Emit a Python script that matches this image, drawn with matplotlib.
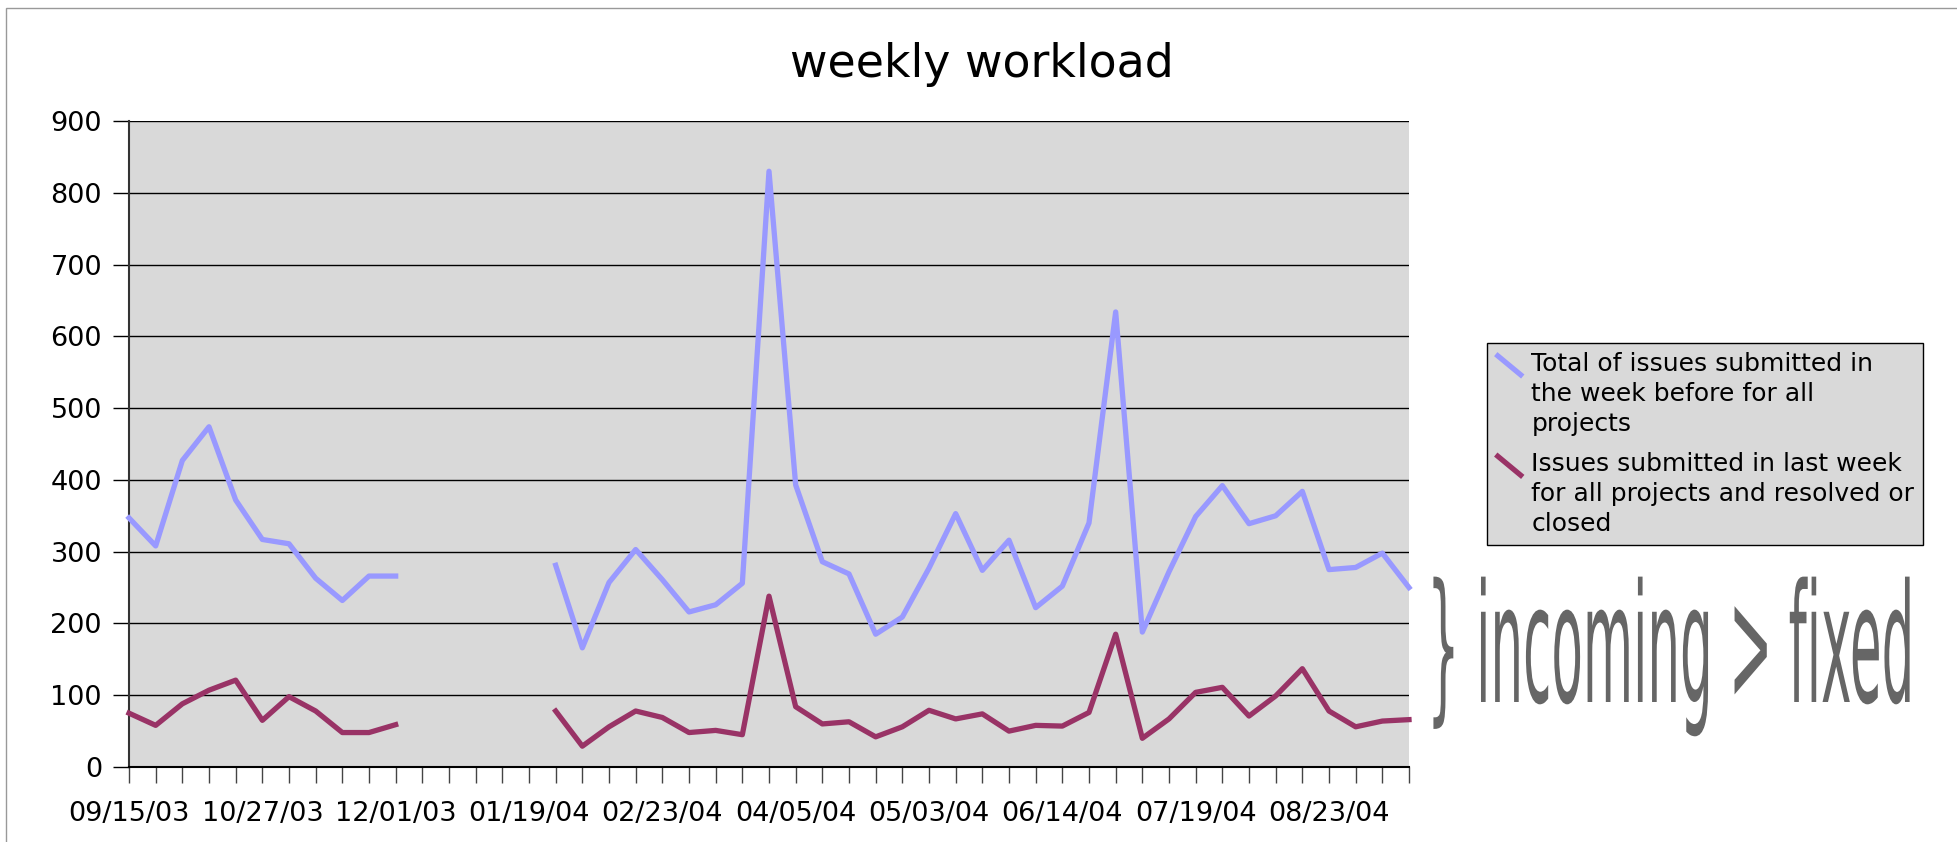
#!/usr/bin/env python3
"""
weekly workload - issues submitted vs. resolved
"""
import numpy as np
import matplotlib
matplotlib.use("Agg")
import matplotlib.pyplot as plt
from matplotlib.lines import Line2D
from matplotlib.patches import Rectangle
from matplotlib.legend_handler import HandlerBase
from matplotlib.patheffects import AbstractPathEffect
from matplotlib.transforms import Affine2D

plt.rcParams['font.family'] = ['DejaVu Sans']

nan = np.nan

# weekly values, one per category (weeks 11-15 have no data)
total_submitted = [347, 308, 427, 474, 372, 317, 311, 263, 232, 266, 266,
                   nan, nan, nan, nan, nan,
                   281, 166, 257, 303, 261, 216, 226, 256, 830, 393, 286,
                   269, 185, 209, 277, 353, 274, 316, 222, 252, 340, 634,
                   188, 272, 349, 392, 339, 350, 384, 275, 278, 298, 250]
resolved = [75, 58, 88, 107, 121, 65, 98, 78, 48, 48, 59,
            nan, nan, nan, nan, nan,
            78, 29, 56, 78, 69, 48, 51, 45, 238, 84, 60,
            63, 42, 56, 79, 67, 74, 50, 58, 57, 76, 185,
            40, 67, 104, 111, 71, 99, 137, 78, 56, 64, 66]

# labels shown on every 5th week
tick_labels = ['09/15/03', '10/27/03', '12/01/03', '01/19/04', '02/23/04',
               '04/05/04', '05/03/04', '06/14/04', '07/19/04', '08/23/04']
label_every = 5

series_names = ['Total of issues submitted in\nthe week before for all\nprojects',
                'Issues submitted in last week\nfor all projects and resolved or\nclosed']
colors = ['#9999ff', '#993366']


class Stretch(AbstractPathEffect):
    """scale the glyphs around the text origin"""
    def __init__(self, sx, sy):
        super().__init__()
        self.sx, self.sy = sx, sy

    def draw_path(self, renderer, gc, tpath, affine, rgbFace=None):
        renderer.draw_path(gc, tpath, Affine2D().scale(self.sx, self.sy) + affine, rgbFace)


class HandlerDiag(HandlerBase):
    """short diagonal stroke, level with the first label line"""
    def __init__(self, lift):
        super().__init__()
        self.lift = lift

    def create_artists(self, legend, orig_handle, xdescent, ydescent,
                       width, height, fontsize, trans):
        x0, y0 = -xdescent, -ydescent + self.lift
        ln = Line2D([x0, x0 + width], [y0 + height, y0],
                    color=orig_handle.get_color(), lw=orig_handle.get_linewidth(),
                    solid_capstyle='butt')
        ln.set_transform(trans)
        return [ln]


W, H = 1958, 842
fig = plt.figure(figsize=(W / 100, H / 100), dpi=100)
ax = fig.add_axes([129 / W, 1 - 767 / H, (1409 - 129) / W, (767 - 121) / H])
ax.set_facecolor('#d9d9d9')

x = np.arange(len(total_submitted))
lines = []
for vals, c in zip([total_submitted, resolved], colors):
    ln, = ax.plot(x, vals, color=c, lw=3.8, clip_on=False, zorder=3)
    lines.append(ln)

ax.set_xlim(0, len(x) - 1)
ax.set_ylim(0, 900)
ax.set_yticks(range(0, 901, 100))
ax.set_xticks(x)
xl = [''] * len(x)
for i, lab in enumerate(tick_labels):
    xl[i * label_every] = lab
ax.set_xticklabels(xl)

ax.grid(axis='y', color='black', lw=1.0)
ax.set_axisbelow(True)
for s in ['top', 'right']:
    ax.spines[s].set_visible(False)
ax.spines['left'].set_color('#333333')
ax.spines['left'].set_linewidth(1.5)
ax.spines['bottom'].set_color('black')
ax.spines['bottom'].set_linewidth(1.5)
ax.tick_params(axis='y', length=11.5, width=1.0, color='black', pad=8,
               labelsize=19.5)
ax.tick_params(axis='x', length=11.5, width=1.0, color='#444444', pad=13,
               labelsize=19.5)

fig.text(982 / W, 1 - 77 / H, 'weekly workload', fontsize=33,
         ha='center', va='baseline')

leg = ax.legend(lines, series_names, loc='upper left',
                bbox_to_anchor=(1487 / W, 1 - 343 / H), bbox_transform=fig.transFigure,
                fontsize=18, frameon=True, fancybox=False, framealpha=1,
                facecolor='#d9d9d9', edgecolor='black', borderaxespad=0,
                borderpad=0.35, handlelength=1.08, handleheight=1.0,
                handletextpad=0.35, labelspacing=0.65,
                handler_map={Line2D: HandlerDiag(21.2)})
leg.get_frame().set_linewidth(1.0)
for t in leg.get_texts():
    t.set_linespacing(1.32)

fig.text(1427 / W, 1 - 702 / H, '} incoming > fixed', fontsize=36,
         color='#666666', ha='left', va='baseline',
         path_effects=[Stretch(1.03, 3.3)])

fig.patches.append(Rectangle((6 / W, -0.1), 1.2, 1.1 - 7.5 / H, transform=fig.transFigure,
                             fill=False, edgecolor='#999999', lw=1.0))

fig.savefig('out.png', dpi=100)
